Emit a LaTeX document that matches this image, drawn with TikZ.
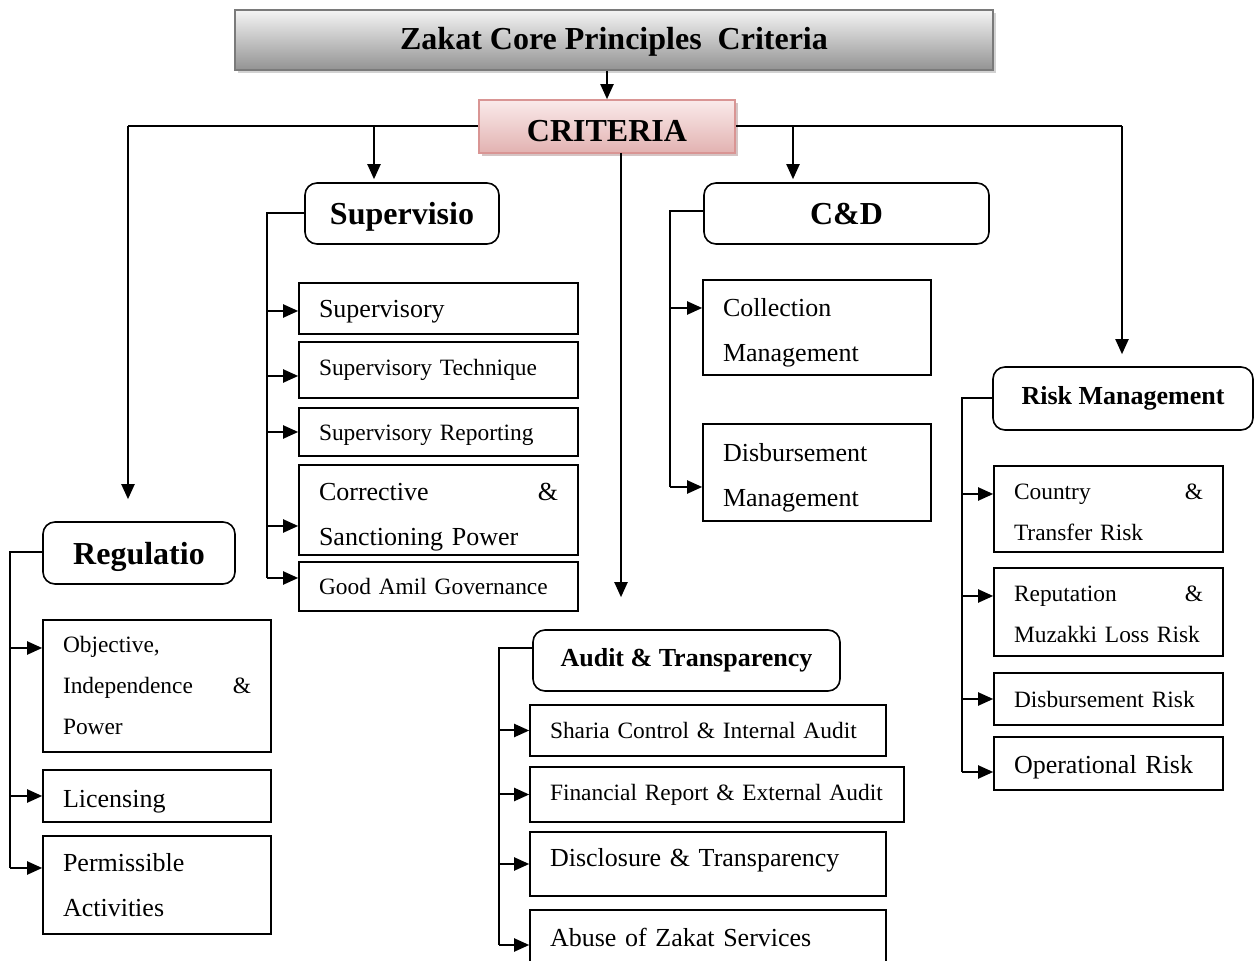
\documentclass[tikz,border=0pt]{standalone}
\usepackage{fontspec}
\setmainfont{Liberation Serif}
\usepackage{tikz}
\usetikzlibrary{arrows.meta,shadows}
\definecolor{titletop}{HTML}{F4F4F4}
\definecolor{titlebot}{HTML}{939393}
\definecolor{titleline}{HTML}{7A7A7A}
\definecolor{crittop}{HTML}{FAEAEA}
\definecolor{critbot}{HTML}{E2B2B1}
\definecolor{critline}{HTML}{D99594}

\begin{document}
\begin{tikzpicture}[x=0.5pt,y=-0.5pt,
  every node/.style={inner sep=0pt},
  head/.style={draw,rounded corners=6pt,line width=0.8pt,align=center,
    text height=14pt,text depth=2.5pt,
    font=\bfseries\fontsize{16}{19}\selectfont},
  midhead/.style={text height=9pt,text depth=3pt,
    font=\bfseries\fontsize{13}{16}\selectfont},
  item/.style={draw,line width=0.8pt,align=left,inner xsep=10pt,
    font=\fontsize{13}{22.5}\selectfont},
  small/.style={font=\fontsize{11.7}{20.5}\selectfont},
  textdown/.style={execute at begin node={\rule{0pt}{#1}}},
  arr/.style={line width=1pt,-{Triangle[length=7.5pt,width=6.5pt]}},
  link/.style={line width=1pt}]
  \useasboundingbox (0,0) rectangle (1254,961);

  % top of the chart
  \node[draw=titleline,line width=0.8pt,top color=titletop,bottom color=titlebot,
    drop shadow={shadow xshift=1.5pt,shadow yshift=-1.5pt,fill=gray!70},
    minimum width=379pt,minimum height=30pt,text height=13pt,text depth=3pt,
    font=\bfseries\fontsize{16}{19}\selectfont] (title) at (614,40)
    {Zakat Core Principles~ Criteria};
  \node[draw=critline,line width=0.8pt,top color=crittop,bottom color=critbot,
    drop shadow={shadow xshift=1.5pt,shadow yshift=-1.5pt,fill=critline!50!gray},
    minimum width=128pt,minimum height=26.5pt,text height=15pt,text depth=0pt,
    font=\bfseries\fontsize{16}{19}\selectfont] (crit) at (607,126.5) {CRITERIA};

  % headers
  \node[head,minimum width=96pt,minimum height=31pt]          (reg)  at (139,553)     {Regulatio};
  \node[head,minimum width=97pt,minimum height=30.5pt]        (sup)  at (402,213.5)   {Supervisio};
  \node[head,minimum width=142.5pt,minimum height=30.5pt]     (cd)   at (846.5,213.5) {C\&D};
  \node[head,midhead,minimum width=130pt,minimum height=31.5pt] (risk) at (1123,398.5) {Risk Management};
  \node[head,midhead,minimum width=153.5pt,minimum height=30.5pt] (aud) at (686.5,660.5) {Audit \& Transparency};

  % regulation
  \node[item,small,text width=94pt,minimum height=66pt]         (r1) at (157,686) {Objective,\\Independence \hfill \&\\Power};
  \node[item,textdown=13.9pt,text width=94pt,minimum height=26pt] (r2) at (157,796) {Licensing};
  \node[item,text width=94pt,minimum height=49pt]               (r3) at (157,885) {Permissible\\Activities};

  % supervision
  \node[item,textdown=11.9pt,text width=119.5pt,minimum height=25.5pt] (s1) at (438.5,308.5) {Supervisory};
  \node[item,small,text width=119.5pt,minimum height=28pt]             (s2) at (438.5,370)   {Supervisory Technique};
  \node[item,small,textdown=10.7pt,text width=119.5pt,minimum height=24pt] (s3) at (438.5,432) {Supervisory Reporting};
  \node[item,textdown=15.9pt,text width=119.5pt,minimum height=45pt]   (s4) at (438.5,510)   {Corrective \hfill \&\\Sanctioning Power};
  \node[item,small,text width=119.5pt,minimum height=24.5pt]           (s5) at (438.5,586.5) {Good Amil Governance};

  % collection and disbursement
  \node[item,textdown=13.9pt,text width=94pt,minimum height=47.5pt] (c1) at (817,327.5) {Collection\\Management};
  \node[item,textdown=13.9pt,text width=94pt,minimum height=48.5pt] (c2) at (817,472.5) {Disbursement\\Management};

  % risk
  \node[item,small,textdown=11.2pt,text width=94.5pt,minimum height=43pt] (k1) at (1108.5,509) {Country \hfill \&\\Transfer Risk};
  \node[item,small,textdown=10.2pt,text width=94.5pt,minimum height=44pt] (k2) at (1108.5,612) {Reputation \hfill \&\\Muzakki Loss Risk};
  \node[item,small,text width=94.5pt,minimum height=26pt]                 (k3) at (1108.5,699) {Disbursement Risk};
  \node[item,textdown=12.9pt,text width=94.5pt,minimum height=26.5pt]     (k4) at (1108.5,763.5) {Operational Risk};

  % audit
  \node[item,small,text width=158pt,minimum height=25.5pt] (a1) at (708,730.5) {Sharia Control \& Internal Audit};
  \node[item,small,text width=167pt,minimum height=27.5pt] (a2) at (717,794.5) {\mbox{Financial Report \& External Audit}};
  \node[item,text width=158pt,minimum height=32pt,text depth=6.5pt] (a3) at (708,864) {Disclosure \& Transparency};
  \node[item,text width=158pt,minimum height=27pt]         (a4) at (708,937)   {Abuse of Zakat Services};

  % criteria bus
  \coordinate (bR) at (128,126.5);
  \coordinate (bS) at (374,126.5);
  \coordinate (bC) at (793,126.5);
  \coordinate (bK) at (1122,126.5);
  \coordinate (bA) at (621,153);
  \draw[arr] (crit.north |- title.south) -- (crit.north);
  \draw[link] (crit.west) -- (bR);
  \draw[link] (crit.east) -- (bK);
  \draw[arr,shorten >=11pt]  (bR) -- (bR |- reg.north);
  \draw[arr,shorten >=1.5pt] (bS) -- (bS |- sup.north);
  \draw[arr,shorten >=1.5pt] (bC) -- (bC |- cd.north);
  \draw[arr,shorten >=6pt]   (bK) -- (bK |- risk.north);
  \draw[arr,shorten >=16pt]  (bA) -- (bA |- aud.north);

  % spines
  \coordinate (sR) at (10,552);
  \coordinate (sS) at (267,213);
  \coordinate (sC) at (670,211);
  \coordinate (sK) at (962,398);
  \coordinate (sA) at (499,648);

  \foreach \n/\dy in {r1/19,r2/0,r3/8.5}{
    \coordinate (t\n) at ([yshift=\dy pt]\n.west);
    \draw[arr] (sR |- t\n) -- (t\n);
  }
  \draw[link] (sR -| reg.west) -- (sR) -- (sR |- tr3);

  \foreach \n/\dy in {s1/-1.25,s2/-3,s3/0,s4/-8,s5/4.25}{
    \coordinate (t\n) at ([yshift=\dy pt]\n.west);
    \draw[arr] (sS |- t\n) -- (t\n);
  }
  \draw[link] (sS -| sup.west) -- (sS) -- (sS |- ts5);

  \foreach \n/\dy in {c1/9.75,c2/-7.25}{
    \coordinate (t\n) at ([yshift=\dy pt]\n.west);
    \draw[arr] (sC |- t\n) -- (t\n);
  }
  \draw[link] (sC -| cd.west) -- (sC) -- (sC |- tc2);

  \foreach \n/\dy in {k1/7.5,k2/8,k3/0,k4/-4.25}{
    \coordinate (t\n) at ([yshift=\dy pt]\n.west);
    \draw[arr] (sK |- t\n) -- (t\n);
  }
  \draw[link] (sK -| risk.west) -- (sK) -- (sK |- tk4);

  \foreach \n/\dy in {a1/0,a2/0,a3/0,a4/-4}{
    \coordinate (t\n) at ([yshift=\dy pt]\n.west);
    \draw[arr] (sA |- t\n) -- (t\n);
  }
  \draw[link] (sA -| aud.west) -- (sA) -- (sA |- ta4);

\end{tikzpicture}
\end{document}
